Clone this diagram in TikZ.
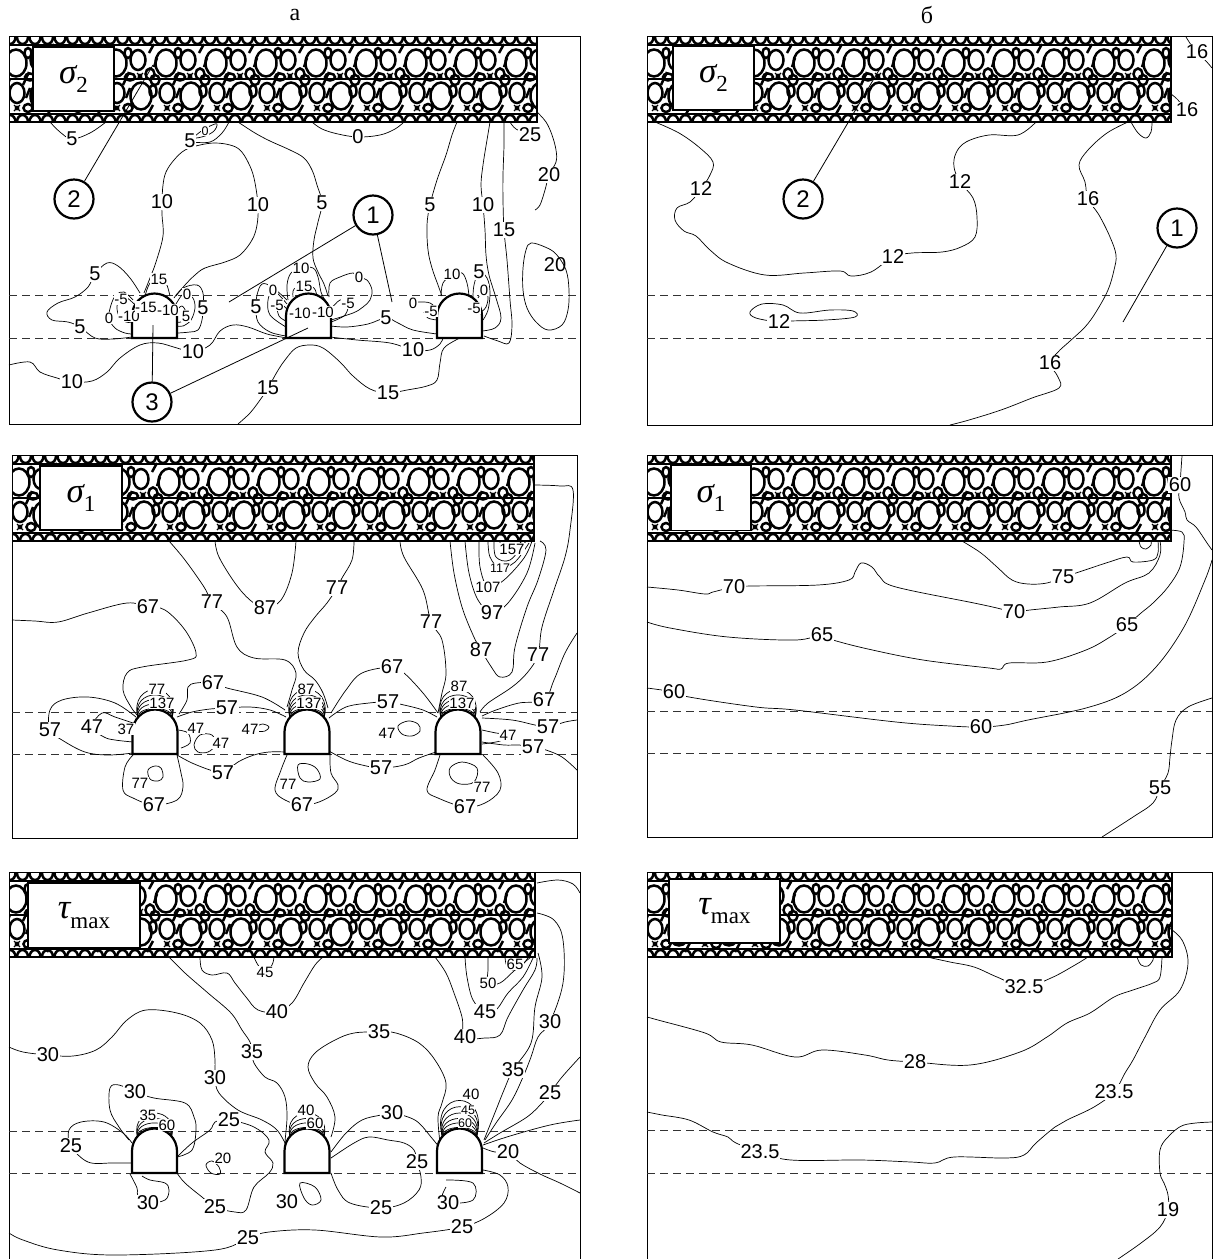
\documentclass[tikz,border=0pt]{standalone}
\usepackage{fontspec}
\setmainfont{Liberation Serif}
\newfontfamily\arial{Liberation Sans}
\newcounter{lbc}
\newcommand\clabL[3]{\stepcounter{lbc}\node[lbl] (t\arabic{lbc}) at (#1,#2) {#3};}
\newcommand\clabM[3]{\stepcounter{lbc}\node[lbm] (t\arabic{lbc}) at (#1,#2) {#3};}
\newcommand\clabS[3]{\stepcounter{lbc}\node[lbs] (t\arabic{lbc}) at (#1,#2) {#3};}
% stress symbol with an upright subscript
\newcommand\stresssym[2]{{\itshape #1}\raisebox{-0.28em}{\fontsize{23}{23}\selectfont #2}}
% rock-fill band: x0, y0, x1, y1
\newcommand\rubble[4]{%
  \begin{scope}
    \clip (#1,#2) rectangle (#3,#4);
    \foreach \k in {0,...,11}{
      \pgfmathsetmacro\cx{#1-5+\k*50}
      \foreach \j in {0,...,3}{
        \draw[stone] (\cx+6+12.5*\j,#2+1) ellipse [x radius=5.5pt, y radius=7pt];
        \draw[stone] (\cx+6+12.5*\j,#4) ellipse [x radius=5.5pt, y radius=7pt];
      }
      \draw[stone] (\cx+12,#2+27) ellipse [x radius=10.5pt, y radius=13.5pt];
      \draw[stone] (\cx+34,#2+24) ellipse [x radius=7.5pt, y radius=10pt];
      \draw[stone] (\cx+46,#2+38) ellipse [x radius=4.5pt, y radius=5.5pt];
      \draw[stone] (\cx+26,#2+41) ellipse [x radius=5pt, y radius=3.5pt];
      \draw[stone] (\cx+24,#2+17) ellipse [x radius=3.5pt, y radius=5pt];
      \draw[stone] (\cx+37,#2+60) ellipse [x radius=10.5pt, y radius=13.5pt];
      \draw[stone] (\cx+13,#2+57) ellipse [x radius=7.5pt, y radius=10pt];
      \draw[stone] (\cx+24,#2+72) ellipse [x radius=4.5pt, y radius=4pt];
      \draw[stone] (\cx+1,#2+44) ellipse [x radius=4.5pt, y radius=5pt];
      \draw[stone] (\cx+49,#2+55) ellipse [x radius=3.5pt, y radius=6pt];
      \fill (\cx+36,#2+40) circle [radius=2.4pt];
      \fill (\cx+13,#2+72) circle [radius=2.4pt];
      \draw[line width=1.1pt] (\cx+33,#2+37) -- (\cx+39,#2+43) (\cx+39,#2+37) -- (\cx+33,#2+43);
      \draw[line width=1.1pt] (\cx+10,#2+69) -- (\cx+16,#2+75) (\cx+16,#2+69) -- (\cx+10,#2+75);
      \draw[stone] (\cx+19,#2+49) -- (\cx+25,#2+36);
      \draw[stone] (\cx+43,#2+80) -- (\cx+49,#2+69);
      \draw[stone] (\cx+45,#2+17) -- (\cx+50,#2+8);
      \draw[stone] (\cx+0,#2+31) -- (\cx+3,#2+22);
      \draw[stone] (\cx+22,#2+62) -- (\cx+26,#2+52);
    }
    \draw[line width=1.2pt] (#1,#2+9) -- (#3,#2+9) (#1,#2+43) -- (#3,#2+43) (#1,#4-8) -- (#3,#4-8);
  \end{scope}
  \draw[line width=2.8pt] (#1,#4) -- (#3,#4) -- (#3,#2);
}
% gallery cross-section: centre x, floor y
\newcommand\tunnelat[2]{%
  \draw[tunnel] ({#1-22.5},#2) -- ({#1-22.5},{#2-22}) .. controls ({#1-22.5},{#2-34.4}) and ({#1-12.4},{#2-44.5}) .. (#1,{#2-44.5})
   .. controls ({#1+12.4},{#2-44.5}) and ({#1+22.5},{#2-34.4}) .. ({#1+22.5},{#2-22}) -- ({#1+22.5},#2) -- cycle;}
% nested isolines over the roof: centre x, floor y, list of heights
\newcommand\archcaps[3]{%
  \foreach \h in {#3}{
    \draw[cl] ({#1-17},{#2-36}) .. controls ({#1-17-0.4*\h},{#2-44-1.2*\h}) and ({#1+17+0.4*\h},{#2-44-1.2*\h}) .. ({#1+17},{#2-36});}}
\begin{document}
\begin{tikzpicture}[x=1pt,y=-1pt,
  panelframe/.style={line width=0.8pt},
  cl/.style={line width=0.7pt, line join=round},
  dashln/.style={line width=0.9pt, dash pattern=on 8pt off 5pt, black!80},
  tunnel/.style={line width=2.2pt, fill=white},
  stone/.style={line width=2.5pt},
  lbl/.style={fill=white, inner sep=0.8pt, font=\arial\fontsize{20}{20}\selectfont},
  lbm/.style={fill=white, inner sep=0.5pt, font=\arial\fontsize{15}{15}\selectfont},
  lbs/.style={fill=white, inner sep=0.3pt, font=\arial\fontsize{12.5}{13}\selectfont},
  numring/.style={circle, draw, line width=2.2pt, fill=white, minimum size=39pt, inner sep=0pt, font=\arial\fontsize{24}{24}\selectfont},
  sbox/.style={draw, line width=1.3pt, fill=white, inner sep=0pt, font=\fontsize{35}{35}\selectfont},
  leader/.style={line width=0.8pt},
  sm/.style={smooth, tension=0.6},
  smc/.style={smooth cycle, tension=0.6}
]
\useasboundingbox (0,0) rectangle (1216,1259);
\fill[white] (0,0) rectangle (1216,1259);

\node[font=\fontsize{24}{24}\selectfont] (capA) at (295,15) {а};
\node[font=\fontsize{24}{24}\selectfont] (capB) at (927,15) {б};

%================ panel A : sigma_2, galleries =================
\draw[panelframe] (9,36) rectangle (580,424);
\draw[dashln] (9,295) -- (580,295);
\draw[dashln] (9,338) -- (580,338);
\draw[cl] plot[sm] coordinates {(50,122) (60,132) (72,139) (90,133) (106,122)};
\draw[cl] plot[sm] coordinates {(229,122) (222,133) (210,142) (192,142)};
\draw[cl] plot[smc] coordinates {(194,138) (200,132) (210,126) (217,124) (214,131) (205,136)};
\draw[cl] plot[sm] coordinates {(144,293) (150,278) (156,262) (163,236) (162,215) (162,202) (163,185) (166,172) (174,160) (185,150) (200,145) (215,143) (230,145) (240,150) (248,162) (254,178) (258,205) (257,225) (252,240) (240,255) (225,262) (205,268) (195,275) (185,285) (176,296)};
\draw[cl] plot[sm] coordinates {(238,122) (255,133) (270,141) (290,150) (304,158) (312,170) (317,185) (322,203) (318,222) (314,240) (313,258) (318,272) (324,284) (328,296)};
\draw[cl] plot[sm] coordinates {(312,122) (322,129) (338,134) (358,137) (380,135) (395,129) (404,122)};
\draw[cl] plot[sm] coordinates {(457,122) (452,135) (446,155) (437,180) (430,205) (427,225) (428,250) (432,268) (438,285) (442,296)};
\draw[cl] plot[sm] coordinates {(490,122) (487,140) (483,165) (481,185) (483,205) (485,230) (486,255) (489,275) (496,298) (501,318) (495,328) (482,331)};
\draw[cl] plot[sm] coordinates {(504,122) (504,145) (503,175) (503,200) (504,230) (507,260) (510,300) (512,325) (509,343) (498,341) (484,336)};
\draw[cl] plot[sm] coordinates {(510,122) (516,129) (530,135)};
\draw[cl] plot[sm] coordinates {(537,112) (546,122) (552,135) (556,150) (556,162) (549,175) (545,190) (540,205) (535,210)};
\draw[cl] plot[smc] coordinates {(531,243) (545,247) (556,254) (566,270) (569,290) (568,310) (562,325) (548,330) (536,322) (527,308) (523,290) (523,268) (526,250)};
\draw[cl] plot[sm] coordinates {(140,293) (130,278) (118,266) (107,263) (95,274) (88,287) (75,297) (58,303) (47,312) (52,320) (68,322) (80,327) (95,338) (113,339) (132,337)};
\draw[cl] plot[sm] coordinates {(9,365) (30,362) (40,372) (57,378) (72,382) (92,381) (107,372) (120,358) (140,345) (158,343) (177,348) (193,352) (210,345) (220,331) (233,325) (248,327) (267,334) (287,338)};
\draw[cl] plot[sm] coordinates {(238,424) (250,413) (260,400) (268,388) (277,372) (285,360) (296,348) (310,345) (323,348) (340,362) (353,376) (370,389) (388,393) (407,390) (427,386) (437,380) (440,363) (444,348) (460,338)};
\draw[cl] plot[sm] coordinates {(330,337) (357,340) (390,343) (413,350) (430,350) (440,344) (443,338)};
\draw[cl] plot[sm] coordinates {(331,326) (347,327) (368,324) (386,318) (398,323) (413,330) (437,334)};
% around gallery 1
\draw[cl] plot[sm] coordinates {(145,296) (150,283) (159,279) (166,283) (170,296)};
\draw[cl] plot[sm] coordinates {(134,304) (127,298) (121,299) (117,306) (119,316) (126,322) (133,322)};
\draw[cl] plot[sm] coordinates {(133,300) (124,292) (116,295) (111,305) (109,318) (115,328) (125,333) (133,334)};
\draw[cl] plot[sm] coordinates {(176,304) (182,295) (187,294) (193,298) (195,308) (191,320) (183,326) (177,326)};
\draw[cl] plot[sm] coordinates {(177,310) (182,306) (186,312) (185,316) (181,322) (177,322)};
\draw[cl] plot[sm] coordinates {(174,298) (183,288) (197,285) (203,293) (203,308) (202,320) (198,330) (190,332) (178,333)};
% around gallery 2
\draw[cl] plot[sm] coordinates {(288,300) (287,285) (291,273) (301,268) (313,268) (318,277) (321,292) (325,300)};
\draw[cl] plot[sm] coordinates {(293,297) (294,289) (304,286) (314,288) (317,297)};
\draw[cl] plot[sm] coordinates {(287,300) (272,287) (262,284) (257,295) (256,307) (258,322) (270,332) (286,336)};
\draw[cl] plot[sm] coordinates {(287,304) (280,296) (273,290) (268,300) (270,315) (286,327)};
\draw[cl] plot[sm] coordinates {(287,309) (281,304) (277,305) (279,316) (286,321)};
\draw[cl] plot[sm] coordinates {(330,310) (340,300) (348,303) (345,315) (331,322)};
\draw[cl] plot[sm] coordinates {(329,297) (330,283) (340,277) (353,273) (359,277) (367,280) (372,290) (370,300) (363,307) (353,313) (331,320)};
% around gallery 3
\draw[cl] plot[sm] coordinates {(441,296) (443,283) (452,275) (462,273) (467,283) (469,296)};
\draw[cl] plot[sm] coordinates {(473,297) (474,285) (479,272) (487,278) (490,292) (488,310) (483,320)};
\draw[cl] plot[sm] coordinates {(478,298) (484,290) (488,297) (486,307) (481,312)};
\draw[cl] plot[sm] coordinates {(437,309) (430,303) (420,302) (412,303)};
\draw[cl] plot[sm] coordinates {(437,320) (428,318) (424,312)};
\rubble{9}{36}{537}{122}
\node[sbox, minimum width=81pt, minimum height=64pt] (boxA) at (73.5,79) {\stresssym{σ}{2}};
\tunnelat{154.5}{338}
\tunnelat{308.5}{338}
\tunnelat{459.5}{338}
\clabL{72}{139}{5} \clabL{190}{141}{5} \clabS{205}{131}{0}
\clabL{162}{202}{10} \clabL{258}{205}{10} \clabL{322}{203}{5} \clabL{358}{137}{0}
\clabL{430}{205}{5} \clabL{483}{205}{10} \clabL{504}{230}{15} \clabL{530}{135}{25}
\clabL{549}{175}{20} \node[font=\arial\fontsize{20}{20}\selectfont] (t20b) at (555,265) {20};
\clabL{95}{274}{5} \clabL{80}{327}{5} \clabL{72}{382}{10} \clabL{193}{352}{10}
\clabL{268}{388}{15} \clabL{388}{393}{15} \clabL{413}{350}{10} \clabL{386}{318}{5}
\clabM{159}{279}{15} \clabM{121}{299}{-5} \clabM{109}{318}{0} \clabM{129}{316}{-10}
\clabM{146}{307}{-15} \clabM{168}{310}{-10} \clabM{187}{294}{0} \clabM{186}{316}{5} \clabL{203}{308}{5}
\clabM{301}{268}{10} \clabM{304}{286}{15} \clabL{256}{307}{5} \clabM{273}{290}{0} \clabM{277}{305}{-5}
\clabM{300}{313}{-10} \clabM{323}{312}{-10} \clabM{348}{303}{-5} \clabM{359}{277}{0}
\clabM{452}{274}{10} \clabL{479}{272}{5} \clabM{484}{290}{0} \clabM{474}{308}{-5} \clabM{413}{303}{0} \clabM{431}{311}{-5}
\node[numring] (ringA2) at (74,199) {2};
\node[numring] (ringA1) at (373,215) {1};
\node[numring] (ringA3) at (152,402) {3};
\coordinate (pA2) at (153,65);
\coordinate (pA1a) at (229,302);
\coordinate (pA1b) at (392,302);
\coordinate (pA3a) at (153,325);
\coordinate (pA3b) at (308,328);
\draw[leader] (ringA2) -- (pA2);
\draw[leader] (ringA1) -- (pA1a);
\draw[leader] (ringA1) -- (pA1b);
\draw[leader] (ringA3) -- (pA3a);
\draw[leader] (ringA3) -- (pA3b);

%================ panel B : sigma_2, no galleries =================
\draw[panelframe] (647,36) rectangle (1212,425);
\draw[dashln] (647,295) -- (1212,295);
\draw[dashln] (647,338) -- (1212,338);
\draw[cl] plot[sm] coordinates {(655,122) (679,133) (700,148) (713,162) (710,175) (701,189) (690,202) (677,208) (675,220) (684,231) (696,236) (710,250) (728,263) (765,275) (804,273) (840,271) (851,276) (871,272) (893,257) (912,253) (942,252) (961,247) (975,237) (977,217) (973,198) (960,182) (954,167) (956,153) (966,142) (989,135) (1018,135) (1036,122)};
\draw[cl] plot[smc] coordinates {(750,312) (762,304) (783,305) (800,313) (830,310) (853,311) (855,317) (826,320) (791,321) (779,322) (756,318)};
\draw[cl] plot[sm] coordinates {(1128,122) (1107,133) (1088,150) (1079,165) (1085,182) (1088,199) (1099,215) (1110,237) (1116,255) (1114,270) (1108,290) (1096,312) (1085,327) (1070,341) (1058,352) (1050,363) (1058,377) (1059,388) (1032,398) (1001,410) (969,420) (950,425)};
\draw[cl] plot[sm] coordinates {(1131,122) (1138,133) (1146,138) (1151,132) (1152,122)};
\draw[cl] plot[sm] coordinates {(1186,37) (1196,52) (1205,60) (1212,68)};
\draw[cl] plot[sm] coordinates {(1171,94) (1178,100) (1185,110)};
\rubble{647}{36}{1171}{122}
\node[sbox, minimum width=81pt, minimum height=64pt] (boxB) at (713.5,78) {\stresssym{σ}{2}};
\clabL{701}{189}{12} \clabL{893}{257}{12} \clabL{960}{182}{12} \clabL{779}{322}{12}
\clabL{1088}{199}{16} \clabL{1050}{363}{16} \clabL{1197}{52}{16} \clabL{1187}{110}{16}
\node[numring] (ringB2) at (803,199) {2};
\node[numring] (ringB1) at (1177,228) {1};
\coordinate (pB2) at (882,65);
\coordinate (pB1) at (1123,322);
\draw[leader] (ringB2) -- (pB2);
\draw[leader] (ringB1) -- (pB1);

%================ panel C : sigma_1, galleries =================
\draw[panelframe] (12,455) rectangle (577,838);
\draw[dashln] (12,712) -- (577,712);
\draw[dashln] (12,754) -- (577,754);
\draw[cl] plot[sm] coordinates {(12,620) (35,621) (58,622) (88,613) (127,603) (148,607) (165,610) (185,630) (196,653) (188,660) (142,667) (127,673) (123,690) (131,707) (138,716)};
\draw[cl] plot[sm] coordinates {(169,541) (185,560) (204,587) (212,602) (227,617) (237,647) (254,658) (285,660) (296,673) (292,690) (287,707)};
\draw[cl] plot[sm] coordinates {(215,541) (219,557) (235,583) (250,600) (265,608) (281,600) (292,573) (296,541)};
\draw[cl] plot[sm] coordinates {(354,541) (352,560) (342,578) (337,588) (327,603) (315,617) (304,633) (298,653) (304,670) (315,680) (323,693) (328,708)};
\draw[cl] plot[sm] coordinates {(331,713) (346,690) (362,673) (392,667) (404,673) (423,693) (438,713)};
\draw[cl] plot[sm] coordinates {(400,541) (404,557) (423,590) (431,622) (442,640) (446,673) (442,693) (438,713)};
\draw[cl] plot[sm] coordinates {(450,541) (454,573) (462,607) (473,635) (481,650) (492,668) (500,677) (512,672) (515,647) (527,607) (538,580) (546,550) (540,541)};
\draw[cl] plot[sm] coordinates {(465,541) (469,573) (478,600) (492,613) (508,603) (527,573) (535,543)};
\draw[cl] plot[sm] coordinates {(479,541) (480,567) (488,587) (504,580) (524,558) (532,541)};
\draw[cl] plot[sm] coordinates {(488,541) (490,557) (500,568) (515,562) (529,543)};
\draw[cl] plot[sm] coordinates {(494,541) (496,557) (510,560) (526,541)};
\draw[cl] plot[sm] coordinates {(500,541) (502,553) (512,550) (522,541)};
\draw[cl] plot[sm] coordinates {(534,485) (560,486) (573,490) (570,530) (565,557) (554,590) (542,627) (538,655) (527,673) (512,687) (488,703) (480,712)};
\draw[cl] plot[sm] coordinates {(577,633) (565,653) (554,680) (544,700) (519,703) (496,710) (482,716)};
\draw[cl] plot[sm] coordinates {(482,718) (512,720) (535,725) (548,727) (565,722) (577,720)};
\draw[cl] plot[sm] coordinates {(482,730) (496,733) (508,735) (500,741) (482,744)};
\draw[cl] plot[sm] coordinates {(482,742) (504,745) (519,745) (533,747) (546,750) (562,757) (577,770)};
\draw[cl] plot[sm] coordinates {(329,751) (346,760) (362,765) (381,768) (404,765) (419,758) (436,752)};
\draw[cl] plot[sm] coordinates {(329,718) (346,707) (369,703) (388,702) (404,705) (423,710) (437,717)};
\draw[cl] plot[smc] coordinates {(398,726) (408,721) (418,724) (420,731) (412,736) (402,734)};
\draw[cl] plot[smc] coordinates {(256,727) (263,724) (269,727) (265,731) (257,731)};
\draw[cl] plot[sm] coordinates {(177,717) (192,712) (210,709) (227,708) (250,707) (270,710) (286,717)};
\draw[cl] plot[sm] coordinates {(179,714) (187,700) (188,687) (196,683) (213,683) (227,688) (262,697) (285,710)};
\draw[cl] plot[sm] coordinates {(177,755) (192,763) (210,770) (223,773) (238,762) (254,755) (269,752) (286,752)};
\draw[cl] plot[sm] coordinates {(178,730) (188,733) (190,743) (181,748)};
\draw[cl] plot[smc] coordinates {(194,745) (200,735) (212,735) (215,745) (208,752) (198,752)};
\draw[cl] plot[sm] coordinates {(136,717) (115,703) (88,697) (62,700) (50,710) (50,730) (62,740) (85,752) (108,755) (133,753)};
\draw[cl] plot[sm] coordinates {(133,723) (115,717) (102,713) (92,727) (104,737) (115,740) (133,742)};
\draw[cl] plot[sm] coordinates {(133,755) (125,767) (123,790) (133,798) (154,805) (177,800) (183,787) (181,773) (177,755)};
\draw[cl] plot[smc] coordinates {(148,770) (155,766) (161,768) (163,777) (158,781) (150,779)};
\draw[cl] plot[sm] coordinates {(287,755) (281,770) (275,790) (285,800) (302,805) (319,802) (335,793) (338,785) (331,773) (330,755)};
\draw[cl] plot[smc] coordinates {(298,765) (308,764) (317,769) (320,779) (308,782) (300,778)};
\draw[cl] plot[sm] coordinates {(440,755) (435,770) (427,790) (438,798) (465,807) (485,803) (500,790) (498,773) (483,755)};
\draw[cl] plot[smc] coordinates {(450,768) (462,762) (477,768) (474,782) (460,784) (451,778)};
\archcaps{155}{754}{4,9,14,19,25}
\archcaps{307}{754}{4,9,14,19,25}
\archcaps{458}{754}{4,9,14,19,25}
\rubble{12}{455}{534}{541}
\node[sbox, minimum width=82pt, minimum height=64pt] (boxC) at (81,498) {\stresssym{σ}{1}};
\tunnelat{155}{754}
\tunnelat{307}{754}
\tunnelat{458}{754}
\clabL{148}{607}{67} \clabL{212}{602}{77} \clabL{265}{608}{87} \clabL{337}{588}{77}
\clabL{392}{667}{67} \clabL{431}{622}{77} \clabL{481}{650}{87} \clabL{492}{613}{97}
\clabM{488}{587}{107} \clabS{500}{568}{117} \clabM{512}{549}{157}
\clabL{538}{655}{77} \clabL{544}{700}{67} \clabL{548}{727}{57} \clabM{508}{735}{47} \clabL{533}{747}{57}
\clabL{381}{768}{57} \clabL{388}{702}{57} \clabM{387}{733}{47} \clabM{250}{729}{47}
\clabL{227}{708}{57} \clabL{213}{683}{67} \clabL{223}{773}{57} \clabM{196}{728}{47} \clabM{221}{743}{47}
\clabL{50}{730}{57} \clabL{92}{727}{47} \clabM{126}{729}{37}
\clabL{154}{805}{67} \clabM{140}{783}{77} \clabL{302}{805}{67} \clabM{288}{784}{77}
\clabL{465}{807}{67} \clabM{482}{787}{77}
\clabM{157}{689}{77} \clabM{162}{703}{137} \clabM{306}{689}{87} \clabM{309}{703}{137}
\clabM{459}{686}{87} \clabM{462}{703}{137}

%================ panel D : sigma_1, no galleries =================
\draw[panelframe] (647,455) rectangle (1212,837);
\draw[dashln] (647,711) -- (1212,711);
\draw[dashln] (647,753) -- (1212,753);
\draw[cl] plot[sm] coordinates {(1182,456) (1181,470) (1180,485) (1179,498) (1185,512) (1187,520) (1196,527) (1207,543) (1212,550)};
\draw[cl] plot[sm] coordinates {(1166,530) (1182,532) (1184,542) (1180,567) (1168,587) (1153,603) (1141,613) (1127,625) (1110,637) (1086,650) (1047,662) (1009,663) (1001,669) (989,668) (923,660) (868,649) (833,640) (822,635) (795,640) (728,637) (670,628) (647,622)};
\draw[cl] plot[sm] coordinates {(1160,541) (1160,555) (1149,573) (1125,583) (1090,603) (1059,607) (1030,610) (1014,612) (997,608) (974,603) (896,587) (880,577) (872,567) (861,563) (855,572) (849,580) (818,585) (752,586) (734,587) (713,592) (705,594) (678,590) (647,587)};
\draw[cl] plot[sm] coordinates {(962,541) (981,553) (997,567) (1012,580) (1028,584) (1047,583) (1063,577) (1079,572) (1106,563) (1127,557) (1133,562) (1153,560) (1158,553) (1158,541)};
\draw[cl] plot[sm] coordinates {(1139,541) (1141,547) (1146,549) (1151,545) (1151,541)};
\draw[cl] plot[sm] coordinates {(647,688) (674,692) (689,697) (756,707) (795,710) (896,722) (950,726) (981,727) (1005,725) (1028,720) (1086,708) (1125,693) (1156,667) (1184,627) (1205,580) (1212,560)};
\draw[cl] plot[sm] coordinates {(1212,698) (1188,707) (1176,720) (1172,740) (1170,757) (1168,773) (1160,788) (1153,803) (1133,817) (1102,837)};
\rubble{647}{455}{1171}{541}
\node[sbox, minimum width=80pt, minimum height=65pt] (boxD) at (711,498) {\stresssym{σ}{1}};
\clabL{1180}{485}{60} \clabL{1127}{625}{65} \clabL{822}{635}{65} \clabL{1014}{612}{70}
\clabL{734}{587}{70} \clabL{1063}{577}{75} \clabL{674}{692}{60} \clabL{981}{727}{60} \clabL{1160}{788}{55}

%================ panel E : tau_max, galleries =================
\draw[panelframe] (9,872) rectangle (580,1262);
\draw[dashln] (9,1131) -- (580,1131);
\draw[dashln] (9,1173) -- (580,1173);
\draw[cl] plot[sm] coordinates {(200,957) (202,970) (212,975) (227,973) (235,983) (246,997) (258,1010) (277,1012) (292,1003) (304,983) (315,965) (323,957)};
\draw[cl] plot[sm] coordinates {(254,957) (258,965) (265,972) (272,965) (274,957)};
\draw[cl] plot[sm] coordinates {(169,957) (185,973) (208,993) (231,1013) (242,1030) (250,1042) (252,1052) (254,1063) (265,1077) (277,1083) (285,1097) (287,1117) (285,1143) (286,1152)};
\draw[cl] plot[sm] coordinates {(9,1047) (23,1052) (48,1055) (73,1056) (96,1050) (112,1037) (127,1020) (146,1010) (177,1013) (200,1023) (212,1040) (215,1060) (215,1078) (219,1093) (238,1110) (262,1120) (277,1130) (286,1145)};
\draw[cl] plot[sm] coordinates {(331,1137) (335,1117) (327,1097) (315,1083) (308,1067) (315,1053) (335,1040) (354,1033) (379,1032) (396,1033) (419,1043) (435,1060) (446,1083) (442,1103) (438,1117) (440,1143)};
\draw[cl] plot[sm] coordinates {(435,957) (446,973) (454,993) (462,1017) (465,1037) (485,1038) (500,1035) (508,1017) (523,990) (535,970) (537,958)};
\draw[cl] plot[sm] coordinates {(465,957) (467,977) (473,1000) (485,1012) (496,1010) (508,993) (523,977) (533,958)};
\draw[cl] plot[sm] coordinates {(488,957) (488,970) (488,983) (500,983) (515,970) (531,957)};
\draw[cl] plot[sm] coordinates {(505,957) (507,966) (515,970) (525,962) (528,957)};
\draw[cl] plot[sm] coordinates {(537,913) (554,920) (563,940) (563,983) (550,1022) (538,1037) (531,1057) (523,1077) (512,1100) (496,1123) (485,1140)};
\draw[cl] plot[sm] coordinates {(537,883) (558,880) (573,884) (580,893)};
\draw[cl] plot[sm] coordinates {(538,953) (542,977) (535,1007) (531,1043) (513,1070) (504,1090) (496,1110) (484,1140)};
\draw[cl] plot[sm] coordinates {(580,1057) (562,1077) (550,1093) (542,1103) (527,1117) (500,1133) (484,1143)};
\draw[cl] plot[sm] coordinates {(483,1148) (495,1152) (508,1152) (520,1163) (540,1174) (560,1183) (580,1193)};
\draw[cl] plot[sm] coordinates {(483,1145) (510,1136) (550,1125) (580,1120)};
\draw[cl] plot[sm] coordinates {(9,1233) (23,1240) (58,1250) (115,1255) (215,1250) (248,1238) (269,1232) (315,1230) (381,1237) (423,1233) (462,1227) (485,1218) (504,1203) (508,1187) (500,1175) (483,1170)};
\draw[cl] plot[sm] coordinates {(132,1163) (112,1163) (88,1162) (71,1146) (69,1130) (81,1122) (104,1122) (123,1133) (132,1143)};
\draw[cl] plot[sm] coordinates {(129,1140) (119,1127) (110,1110) (110,1088) (119,1085) (135,1092) (154,1098) (185,1103) (194,1117) (196,1130) (192,1150) (177,1157)};
\draw[cl] plot[sm] coordinates {(177,1157) (192,1143) (210,1130) (215,1122) (229,1120) (254,1127) (269,1140) (265,1152) (273,1163) (269,1173) (254,1187) (246,1210) (235,1212) (215,1207) (202,1197) (185,1183) (177,1173)};
\draw[cl] plot[smc] coordinates {(206,1165) (212,1161) (219,1167) (220,1174) (211,1173)};
\draw[cl] plot[sm] coordinates {(130,1174) (137,1188) (138,1197) (148,1203) (165,1200) (169,1190) (165,1183) (150,1180) (142,1176)};
\draw[cl] plot[smc] coordinates {(300,1183) (315,1187) (321,1200) (312,1205) (304,1198)};
\draw[cl] plot[sm] coordinates {(331,1158) (354,1143) (369,1137) (388,1140) (404,1143) (414,1150) (417,1162) (421,1177) (419,1190) (404,1203) (381,1208) (350,1203) (338,1190) (331,1173)};
\draw[cl] plot[sm] coordinates {(446,1180) (473,1183) (473,1200) (448,1203) (442,1197) (446,1187)};
\draw[cl] plot[sm] coordinates {(331,1152) (346,1133) (362,1120) (381,1115) (392,1113) (408,1117) (419,1123) (431,1137) (440,1148)};
\archcaps{154.5}{1173}{4,9,14,20}
\archcaps{307}{1173}{4,9,14,20}
\archcaps{459.5}{1173}{4,9,14,20,27,34}
\rubble{9}{872}{535}{957}
\node[sbox, minimum width=112pt, minimum height=65pt] (boxE) at (84,915.5) {\stresssym{τ}{max}};
\tunnelat{154.5}{1173}
\tunnelat{307}{1173}
\tunnelat{459.5}{1173}
\clabL{277}{1012}{40} \clabM{265}{972}{45} \clabL{252}{1052}{35} \clabL{48}{1055}{30} \clabL{215}{1078}{30}
\clabL{379}{1032}{35} \clabL{465}{1037}{40} \clabL{485}{1012}{45} \clabM{488}{983}{50} \clabM{515}{964}{65}
\clabL{550}{1022}{30} \clabL{513}{1070}{35} \clabL{550}{1093}{25} \clabL{508}{1152}{20}
\clabL{248}{1238}{25} \clabL{462}{1227}{25} \clabL{71}{1146}{25} \clabL{135}{1092}{30}
\clabL{229}{1120}{25} \clabL{215}{1207}{25} \clabM{223}{1158}{20} \clabL{148}{1203}{30} \clabL{287}{1202}{30}
\clabL{417}{1162}{25} \clabL{381}{1208}{25} \clabL{448}{1203}{30} \clabL{392}{1113}{30}
\clabM{148}{1115}{35} \clabM{167}{1125}{60} \clabM{306}{1110}{40} \clabM{315}{1123}{60}
\clabM{471}{1094}{40} \clabS{468}{1110}{45} \clabS{465}{1123}{60}

%================ panel F : tau_max, no galleries =================
\draw[panelframe] (647,872) rectangle (1212,1262);
\draw[dashln] (647,1130) -- (1212,1130);
\draw[dashln] (647,1173) -- (1212,1173);
\draw[cl] plot[sm] coordinates {(927,957) (950,962) (974,967) (997,977) (1024,987) (1051,978) (1075,965) (1088,957)};
\draw[cl] plot[sm] coordinates {(1137,957) (1141,965) (1148,966) (1153,960) (1153,957)};
\draw[cl] plot[sm] coordinates {(1162,957) (1160,977) (1153,983) (1133,990) (1114,997) (1090,1013) (1067,1023) (1047,1037) (1020,1052) (970,1065) (915,1062) (888,1060) (865,1055) (822,1050) (795,1057) (752,1045) (721,1042) (705,1033) (658,1020) (647,1017)};
\draw[cl] plot[sm] coordinates {(1168,927) (1182,940) (1188,963) (1180,990) (1160,1010) (1145,1037) (1133,1060) (1125,1073) (1114,1092) (1094,1107) (1067,1120) (1055,1127) (1036,1143) (1024,1155) (1005,1158) (954,1157) (935,1163) (911,1162) (861,1160) (791,1160) (760,1152) (736,1143) (728,1137) (713,1132) (689,1120) (662,1115) (647,1112)};
\draw[cl] plot[sm] coordinates {(1212,1122) (1184,1125) (1168,1137) (1160,1150) (1160,1173) (1164,1183) (1168,1195) (1168,1210) (1160,1227) (1141,1243) (1118,1259)};
\rubble{647}{872}{1172}{957}
\node[sbox, minimum width=111pt, minimum height=64pt] (boxF) at (724.5,911) {\stresssym{τ}{max}};
\clabL{1024}{987}{32.5} \clabL{915}{1062}{28} \clabL{1114}{1092}{23.5} \clabL{760}{1152}{23.5} \clabL{1168}{1210}{19}
\end{tikzpicture}
\end{document}
